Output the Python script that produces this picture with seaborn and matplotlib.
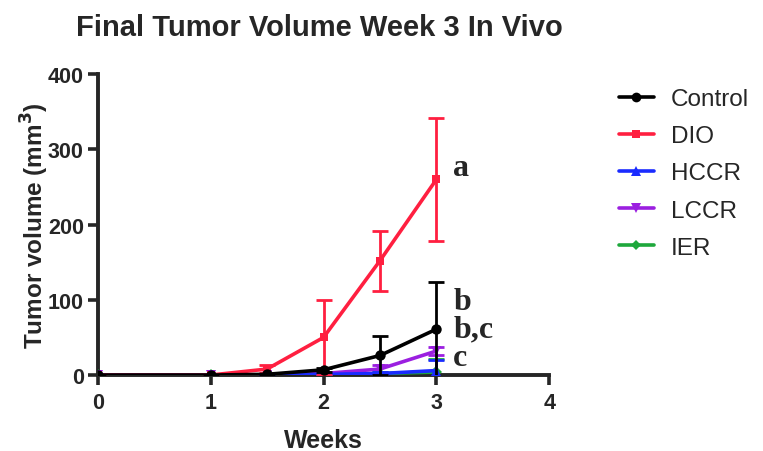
import matplotlib
matplotlib.use("Agg")
import matplotlib.pyplot as plt
import seaborn as sns
import pandas as pd
from matplotlib.lines import Line2D

weeks = [0, 1, 1.5, 2, 2.5, 3]
groups = ["Control", "DIO", "HCCR", "LCCR", "IER"]
control = [0, 0, 1, 7, 26, 61]
control_err = [0, 0, 1, 3, 26, 63]
dio = [0, 0, 8, 50, 152, 260]
dio_err = [0, 0, 5, 50, 40, 82]
hccr = [0, 0, 0, 1, 2, 6]
hccr_err = [0, 0, 0, 1, 2, 14]
lccr = [0, 0, 0, 2, 8, 32]
lccr_err = [0, 0, 0, 1, 5, 5]
ier = [0, 0, 0, 1, 2, 4]
ier_err = [0, 0, 0, 1, 2, 17]
letters = ["a", "b", "b,c", "c"]
letter_y = [276, 98, 61, 24]

colors = {"Control": "#000000", "DIO": "#FF1F40", "HCCR": "#1A2BFF",
          "LCCR": "#9B1FE0", "IER": "#1EA83C"}
markers = {"Control": "o", "DIO": "s", "HCCR": "^", "LCCR": "v", "IER": "D"}
msizes = {"Control": 7.5, "DIO": 6, "HCCR": 7, "LCCR": 7, "IER": 6}

vals = {"Control": control, "DIO": dio, "HCCR": hccr, "LCCR": lccr, "IER": ier}
errs = {"Control": control_err, "DIO": dio_err, "HCCR": hccr_err,
        "LCCR": lccr_err, "IER": ier_err}

rows = []
for g in groups:
    for w, v, e in zip(weeks, vals[g], errs[g]):
        rows.append({"Weeks": w, "Volume": v, "Err": e, "Group": g})
df = pd.DataFrame(rows)

sns.set_style("ticks")
plt.rcParams["font.family"] = ["Liberation Sans", "DejaVu Sans"]

fig = plt.figure(figsize=(7.63, 4.52), dpi=100)
ax = fig.add_axes([0.128, 0.168, 0.592, 0.666])

draw_order = ["IER", "LCCR", "HCCR", "DIO", "Control"]
for i, g in enumerate(draw_order):
    sub = df[df["Group"] == g]
    ax.errorbar(sub["Weeks"], sub["Volume"], yerr=sub["Err"], fmt="none",
                ecolor=colors[g], elinewidth=2, capsize=6, capthick=2,
                zorder=2 + i)
    sns.lineplot(data=sub, x="Weeks", y="Volume", color=colors[g],
                 marker=markers[g], markersize=msizes[g], markeredgewidth=0,
                 linewidth=2.6, ax=ax, legend=False,
                 errorbar=None, zorder=3 + i)

handles = [Line2D([0], [0], color=colors[g], marker=markers[g],
                  markersize=msizes[g] - 0.5,
                  markeredgewidth=0, linewidth=2.6) for g in groups]
leg = ax.legend(handles, groups, loc="upper left", bbox_to_anchor=(1.132, 0.985),
                frameon=False, fontsize=17.5, handlelength=1.45,
                handletextpad=0.7, labelspacing=0.62, borderaxespad=0)

for t, y in zip(letters, letter_y):
    ax.text(3.15, y, t, fontsize=23, fontweight="bold",
            family=["Liberation Serif", "DejaVu Serif"], va="center", ha="left",
            clip_on=False)

ax.set_xlim(0, 4)
ax.set_ylim(0, 400)
ax.set_xticks([0, 1, 2, 3, 4])
ax.set_yticks([0, 100, 200, 300, 400])
for lab in ax.get_xticklabels() + ax.get_yticklabels():
    lab.set_fontweight("bold")
ax.tick_params(axis="both", labelsize=15.5, width=2.6, length=7,
               direction="out", pad=3)
ax.tick_params(axis="x", pad=5)
for s in ["left", "bottom"]:
    ax.spines[s].set_linewidth(2.8)
sns.despine(ax=ax)
ax.set_xlabel("Weeks", fontsize=18, fontweight="bold", labelpad=11)
ax.set_ylabel("Tumor volume (mm$^\\mathbf{3}$)", fontsize=17.5,
              fontweight="bold", labelpad=-2)
fig.text(0.419, 0.937, "Final Tumor Volume Week 3 In Vivo", fontsize=21,
         fontweight="bold", ha="center", va="center")

fig.savefig("out.png", dpi=100)
